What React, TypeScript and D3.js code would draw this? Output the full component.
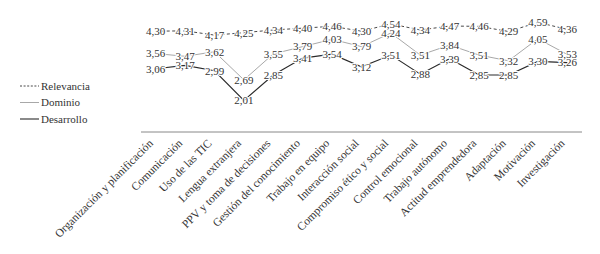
import React from "react";
import * as d3 from "d3";

const categories = [
  "Organización y planificación",
  "Comunicación",
  "Uso de las TIC",
  "Lengua extranjera",
  "PPV y toma de decisiones",
  "Gestión del conocimiento",
  "Trabajo en equipo",
  "Interacción social",
  "Compromiso ético y social",
  "Control emocional",
  "Trabajo autónomo",
  "Actitud emprendedora",
  "Adaptación",
  "Motivación",
  "Investigación",
];

const relevancia = [4.30, 4.31, 4.17, 4.25, 4.34, 4.40, 4.46, 4.30, 4.54, 4.34, 4.47, 4.46, 4.29, 4.59, 4.36];
const dominio = [3.56, 3.47, 3.62, 2.69, 3.55, 3.79, 4.03, 3.79, 4.24, 3.51, 3.84, 3.51, 3.32, 4.05, 3.53];
const desarrollo = [3.06, 3.17, 2.99, 2.01, 2.85, 3.41, 3.54, 3.12, 3.51, 2.88, 3.39, 2.85, 2.85, 3.30, 3.26];

const seriesNames = ["Relevancia", "Dominio", "Desarrollo"];

const W = 600;
const H = 254;
const FONT = "'Liberation Serif', 'DejaVu Serif', serif";

export default function App() {
  const x = d3.scaleBand<string>().domain(categories).range([141, 582]);
  const y = d3.scaleLinear().domain([1, 5]).range([131, 10]);
  const cx = (i: number) => (x(categories[i]) as number) + x.bandwidth() / 2;
  const fmt = (v: number) => d3.format(".2f")(v).replace(".", ",");

  const series = [
    { name: seriesNames[0], values: relevancia, color: "#333", dash: "3,2.5", width: 0.9 },
    { name: seriesNames[1], values: dominio, color: "#a8a8a8", dash: undefined, width: 1 },
    { name: seriesNames[2], values: desarrollo, color: "#2a2a2a", dash: undefined, width: 1.1 },
  ];

  const line = d3
    .line<number>()
    .x((_, i) => cx(i))
    .y((d) => y(d));

  return (
    <svg width={W} height={H} style={{ position: "absolute", left: 0, top: 0, background: "#fff" }} fontFamily={FONT}>
      <rect width={W} height={H} fill="#fff" />
      {/* axis */}
      <line x1={141} x2={582} y1={132} y2={132} stroke="#888" strokeWidth={1} />
      {categories.map((c, i) => (
        <text
          key={c}
          transform={`translate(${cx(i) - 2},${144}) rotate(-45)`}
          textAnchor="end"
          fontSize={11.5}
          fill="#333"
        >
          {c}
        </text>
      ))}
      {/* lines */}
      {series.map((s) => (
        <path
          key={s.name}
          d={line(s.values) || ""}
          fill="none"
          stroke={s.color}
          strokeWidth={s.width}
          strokeDasharray={s.dash}
        />
      ))}
      {/* labels */}
      {series.map((s) =>
        s.values.map((v, i) => (
          <text
            key={s.name + i}
            x={cx(i)}
            y={y(v)}
            dy="0.35em"
            textAnchor="middle"
            fontSize={11}
            fill="#333"
            stroke="#fff"
            strokeWidth={2}
            paintOrder="stroke"
          >
            {fmt(v)}
          </text>
        ))
      )}
      {/* legend */}
      {series.map((s, k) => (
        <g key={s.name} transform={`translate(20,${86 + k * 16.5})`}>
          <line x1={0} x2={19} y1={0} y2={0} stroke={s.color} strokeWidth={s.width} strokeDasharray={s.dash ? "2,1.6" : undefined} />
          <text x={21} y={0} dy="0.35em" fontSize={11} fill="#333">
            {s.name}
          </text>
        </g>
      ))}
    </svg>
  );
}
